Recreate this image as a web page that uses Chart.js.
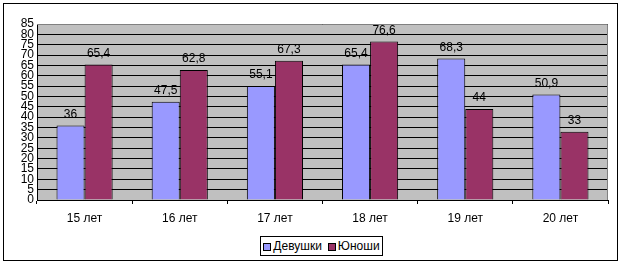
<!DOCTYPE html>
<html>
<head>
<meta charset="utf-8">
<script src="https://cdn.jsdelivr.net/npm/chart.js@4"></script>
<style>
  body { margin:0; background:#fff; }
  #wrap { position:relative; width:623px; height:267px; }
  #legend {
    position:absolute; left:260px; top:236px; width:121px; height:18px;
    border:1px solid #000; background:#fff;
    font:12px "Liberation Sans", Arial, sans-serif; color:#000;
    display:flex; align-items:center; justify-content:center; gap:6px;
  }
  .sw { display:inline-block; width:6px; height:6px; border:1px solid #000; margin-right:2px; vertical-align:middle; }
</style>
</head>
<body>
<div id="wrap">
  <canvas id="c" width="623" height="267"></canvas>
  <div id="legend"></div>
</div>
<script>
const categories = ["15 лет", "16 лет", "17 лет", "18 лет", "19 лет", "20 лет"];
const girls = [36, 47.5, 55.1, 65.4, 68.3, 50.9];
const boys = [65.4, 62.8, 67.3, 76.6, 44, 33];
const seriesNames = ["Девушки", "Юноши"];
const colors = ["#9999ff", "#993366"];

const FONT = "'Liberation Sans', Arial, sans-serif";

// легенда в html
document.getElementById("legend").innerHTML = seriesNames.map((n, i) =>
  `<span><span class="sw" style="background:${colors[i]}"></span>${n}</span>`).join("");

const frame = {
  id: "frame",
  beforeDraw(chart) {
    const {ctx, chartArea: a} = chart;
    ctx.save();
    ctx.fillStyle = "#c0c0c0";
    ctx.fillRect(a.left, a.top, a.right - a.left, a.bottom - a.top);
    ctx.strokeStyle = "#000";
    ctx.lineWidth = 1;
    ctx.strokeRect(3.5, 3.5, 614, 257);
    ctx.restore();
  },
  afterDatasetsDraw(chart) {
    const {ctx, chartArea: a} = chart;
    ctx.save();
    ctx.strokeStyle = "#808080";
    ctx.beginPath();
    ctx.moveTo(a.left, a.top + 0.5); ctx.lineTo(a.right - 0.5, a.top + 0.5);
    ctx.lineTo(a.right - 0.5, a.bottom);
    ctx.stroke();
    // подписи значений
    ctx.fillStyle = "#000";
    ctx.font = "12px " + FONT;
    ctx.textAlign = "center";
    ctx.textBaseline = "bottom";
    chart.data.datasets.forEach((ds, i) => {
      chart.getDatasetMeta(i).data.forEach((bar, j) => {
        ctx.fillText(String(ds.data[j]).replace(".", ","), bar.x, bar.y - 5);
      });
    });
    ctx.restore();
  }
};

new Chart(document.getElementById("c"), {
  type: "bar",
  data: {
    labels: categories,
    datasets: [
      {label: seriesNames[0], data: girls, backgroundColor: colors[0], borderColor: "#000", borderWidth: 1, borderSkipped: "bottom"},
      {label: seriesNames[1], data: boys, backgroundColor: colors[1], borderColor: "#000", borderWidth: 1, borderSkipped: "bottom"}
    ]
  },
  options: {
    responsive: false,
    animation: false,
    layout: {padding: {left: 4, top: 24, right: 15, bottom: 0}},
    datasets: {bar: {categoryPercentage: 0.59, barPercentage: 1}},
    plugins: {legend: {display: false}, tooltip: {enabled: false}},
    scales: {
      x: {
        grid: {offset: true, drawOnChartArea: false, color: "#000", tickLength: 4},
        border: {color: "#000"},
        ticks: {color: "#000", font: {size: 12, family: FONT}, padding: 7},
        afterFit(s) { s.height = 67; }
      },
      y: {
        min: 0, max: 85,
        grid: {color: "#000", drawTicks: false},
        border: {color: "#000"},
        ticks: {stepSize: 5, autoSkip: false, color: "#000", font: {size: 12, family: FONT}, padding: 3},
        afterFit(s) { s.width = 33; }
      }
    }
  },
  plugins: [frame]
});
</script>
</body>
</html>
